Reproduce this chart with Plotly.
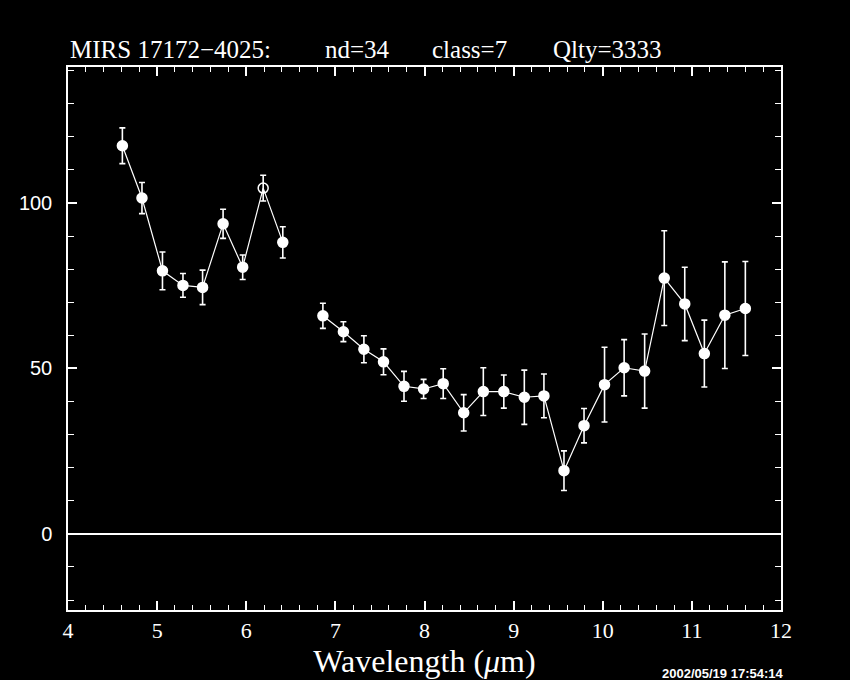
import plotly.graph_objects as go

# Segment 1 (short-wavelength band)
wave_a = [4.61, 4.83, 5.06, 5.29, 5.51, 5.74, 5.96, 6.19, 6.41]
flux_a = [117.3, 101.5, 79.5, 75.1, 74.5, 93.7, 80.6, 104.5, 88.1]
err_a = [5.4, 4.7, 5.7, 3.6, 5.2, 4.4, 3.7, 3.9, 4.7]
sym_a = ["circle", "circle", "circle", "circle", "circle", "circle", "circle", "circle-open", "circle"]

# Segment 2 (long-wavelength band)
wave_b = [6.86, 7.09, 7.32, 7.54, 7.77, 7.99, 8.21, 8.44, 8.66, 8.89, 9.12, 9.34,
          9.565, 9.79, 10.02, 10.24, 10.47, 10.69, 10.92, 11.14, 11.37, 11.60]
flux_b = [65.9, 61.1, 55.8, 52.0, 44.6, 43.8, 45.4, 36.6, 43.0, 43.0, 41.3, 41.7,
          19.1, 32.7, 45.1, 50.2, 49.2, 77.3, 69.5, 54.5, 66.1, 68.1]
err_b = [3.8, 3.0, 4.1, 3.9, 4.5, 2.9, 4.5, 5.5, 7.2, 5.0, 8.2, 6.6,
         6.0, 5.2, 11.3, 8.5, 11.2, 14.3, 11.1, 10.1, 16.1, 14.2]

title_parts = ["MIRS 17172\u22124025:", "nd=34", "class=7", "Qlty=3333"]
x_label = "Wavelength (<i>\u03bc</i>m)"
timestamp = "2002/05/19 17:54:14"

fig = go.Figure()
for w, f, e, s in [(wave_a, flux_a, err_a, sym_a), (wave_b, flux_b, err_b, ["circle"] * len(wave_b))]:
    fig.add_trace(go.Scatter(
        x=w, y=f, mode="lines+markers",
        line=dict(color="white", width=1.2),
        marker=dict(color="white", size=10, symbol=s, line=dict(color="white", width=1.5)),
        error_y=dict(type="data", array=e, visible=True, color="white", thickness=1.6, width=3),
        showlegend=False,
    ))

axis_common = dict(
    showline=True, linecolor="white", linewidth=1.5, mirror="allticks",
    ticks="inside", tickcolor="white", tickwidth=1.5,
    showgrid=False,
)
fig.update_xaxes(
    range=[4, 12], tick0=4, dtick=1, ticklen=9,
    minor=dict(ticks="inside", dtick=0.2, ticklen=5, tickcolor="white", tickwidth=1.2, showgrid=False),
    tickfont=dict(family="Liberation Serif", size=22, color="white"),
    title=dict(text=x_label, font=dict(family="Liberation Serif", size=32, color="white"), standoff=0),
    zeroline=False,
    **axis_common,
)
fig.update_yaxes(
    range=[-23, 141.1], tick0=0, dtick=50, ticklen=9,
    minor=dict(ticks="inside", dtick=10, ticklen=6, tickcolor="white", tickwidth=1.2, showgrid=False),
    tickfont=dict(family="Liberation Sans", size=20, color="white"),
    ticklabelstandoff=10,
    zeroline=True, zerolinecolor="white", zerolinewidth=2,
    **axis_common,
)

title_x = [0, 0.3577, 0.508, 0.677]
for t, xp in zip(title_parts, title_x):
    fig.add_annotation(text=t, xref="paper", yref="paper", x=xp, y=1.0, xanchor="left", yanchor="bottom",
                       yshift=2, showarrow=False, font=dict(family="Liberation Serif", size=25, color="white"))
fig.add_annotation(text="<b>" + timestamp + "</b>", xref="paper", yref="paper", x=1.005, y=-0.1,
                   xanchor="right", yanchor="top", showarrow=False,
                   font=dict(family="Liberation Sans", size=13, color="white"))

fig.update_layout(
    width=850, height=680,
    margin=dict(l=68, r=69, t=67, b=70),
    paper_bgcolor="black", plot_bgcolor="black",
    font=dict(color="white"),
)
fig.write_html("out.html", config={"displayModeBar": False},
               post_script="document.body.style.margin='0';document.body.style.background='black';")
